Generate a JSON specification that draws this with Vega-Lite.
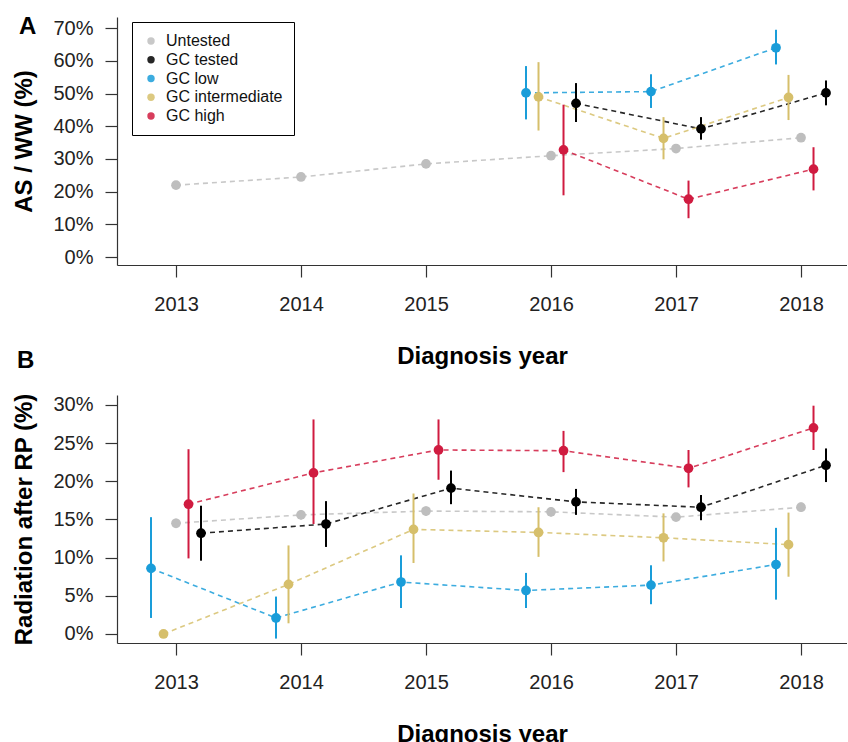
{
  "$schema": "https://vega.github.io/schema/vega-lite/v6.json",
  "padding": {"left": 12, "top": 15, "right": 0, "bottom": 0},
  "background": "white",
  "config": {
    "font": "Liberation Sans",
    "view": {"stroke": null},
    "axis": {
      "grid": false,
      "domainColor": "#333333",
      "domainWidth": 1.2,
      "tickColor": "#333333",
      "tickWidth": 1.2,
      "tickSize": 12,
      "labelFontSize": 20,
      "labelColor": "#222222",
      "labelOverlap": false,
      "titleFontSize": 24,
      "titleFontWeight": "bold",
      "titleColor": "#000000"
    },
    "concat": {"spacing": -20}
  },
  "datasets": {
    "A": [
      {"year": 2013, "group": "Untested", "value": 22.0, "lo": 21.6, "hi": 22.4},
      {"year": 2014, "group": "Untested", "value": 24.5, "lo": 24.1, "hi": 24.9},
      {"year": 2015, "group": "Untested", "value": 28.5, "lo": 28.1, "hi": 28.9},
      {"year": 2016, "group": "Untested", "value": 31.0, "lo": 30.5, "hi": 31.5},
      {"year": 2017, "group": "Untested", "value": 33.2, "lo": 32.7, "hi": 33.7},
      {"year": 2018, "group": "Untested", "value": 36.5, "lo": 36.0, "hi": 37.0},
      {"year": 2016, "group": "GC tested", "value": 47.0, "lo": 41.3, "hi": 53.2},
      {"year": 2017, "group": "GC tested", "value": 39.2, "lo": 35.9, "hi": 42.8},
      {"year": 2018, "group": "GC tested", "value": 50.2, "lo": 46.4, "hi": 54.0},
      {"year": 2016, "group": "GC low", "value": 50.2, "lo": 42.1, "hi": 58.4},
      {"year": 2017, "group": "GC low", "value": 50.6, "lo": 45.6, "hi": 55.9},
      {"year": 2018, "group": "GC low", "value": 64.0, "lo": 58.9, "hi": 69.5},
      {"year": 2016, "group": "GC intermediate", "value": 49.0, "lo": 38.7, "hi": 59.6},
      {"year": 2017, "group": "GC intermediate", "value": 36.3, "lo": 29.9, "hi": 42.8},
      {"year": 2018, "group": "GC intermediate", "value": 48.8, "lo": 41.9, "hi": 55.7},
      {"year": 2016, "group": "GC high", "value": 32.8, "lo": 18.9, "hi": 46.6},
      {"year": 2017, "group": "GC high", "value": 17.7, "lo": 11.9, "hi": 23.4},
      {"year": 2018, "group": "GC high", "value": 26.9, "lo": 20.4, "hi": 33.6}
    ],
    "B": [
      {"year": 2013, "group": "Untested", "value": 14.5, "lo": 13.9, "hi": 15.1},
      {"year": 2014, "group": "Untested", "value": 15.6, "lo": 15.0, "hi": 16.2},
      {"year": 2015, "group": "Untested", "value": 16.1, "lo": 15.5, "hi": 16.7},
      {"year": 2016, "group": "Untested", "value": 16.0, "lo": 15.4, "hi": 16.6},
      {"year": 2017, "group": "Untested", "value": 15.3, "lo": 14.8, "hi": 15.8},
      {"year": 2018, "group": "Untested", "value": 16.6, "lo": 16.0, "hi": 17.2},
      {"year": 2013, "group": "GC tested", "value": 13.2, "lo": 9.6, "hi": 16.8},
      {"year": 2014, "group": "GC tested", "value": 14.4, "lo": 11.4, "hi": 17.4},
      {"year": 2015, "group": "GC tested", "value": 19.1, "lo": 17.0, "hi": 21.4},
      {"year": 2016, "group": "GC tested", "value": 17.3, "lo": 15.6, "hi": 19.0},
      {"year": 2017, "group": "GC tested", "value": 16.6, "lo": 14.9, "hi": 18.2},
      {"year": 2018, "group": "GC tested", "value": 22.1, "lo": 19.9, "hi": 24.3},
      {"year": 2013, "group": "GC low", "value": 8.6, "lo": 2.1, "hi": 15.3},
      {"year": 2014, "group": "GC low", "value": 2.1, "lo": -0.6, "hi": 4.9},
      {"year": 2015, "group": "GC low", "value": 6.8, "lo": 3.4, "hi": 10.3},
      {"year": 2016, "group": "GC low", "value": 5.7, "lo": 3.4, "hi": 8.0},
      {"year": 2017, "group": "GC low", "value": 6.4, "lo": 3.9, "hi": 9.0},
      {"year": 2018, "group": "GC low", "value": 9.1, "lo": 4.5, "hi": 13.9},
      {"year": 2013, "group": "GC intermediate", "value": 0.0, "lo": 0.0, "hi": 0.0},
      {"year": 2014, "group": "GC intermediate", "value": 6.5, "lo": 1.4, "hi": 11.6},
      {"year": 2015, "group": "GC intermediate", "value": 13.7, "lo": 9.3, "hi": 18.4},
      {"year": 2016, "group": "GC intermediate", "value": 13.3, "lo": 10.1, "hi": 16.6},
      {"year": 2017, "group": "GC intermediate", "value": 12.6, "lo": 9.5, "hi": 15.8},
      {"year": 2018, "group": "GC intermediate", "value": 11.7, "lo": 7.5, "hi": 15.9},
      {"year": 2013, "group": "GC high", "value": 17.0, "lo": 9.9, "hi": 24.2},
      {"year": 2014, "group": "GC high", "value": 21.1, "lo": 14.4, "hi": 28.1},
      {"year": 2015, "group": "GC high", "value": 24.1, "lo": 20.2, "hi": 28.1},
      {"year": 2016, "group": "GC high", "value": 24.0, "lo": 21.2, "hi": 26.6},
      {"year": 2017, "group": "GC high", "value": 21.7, "lo": 19.2, "hi": 24.1},
      {"year": 2018, "group": "GC high", "value": 27.0, "lo": 24.1, "hi": 29.9}
    ]
  },
  "resolve": {"legend": {"color": "independent"}},
  "vconcat": [
    {
      "data": {"name": "A"},
      "width": 730,
      "height": 248,
      "title": {"text": "A", "anchor": "start", "frame": "bounds", "fontSize": 24, "fontWeight": "bold", "offset": -22, "dx": 6},
      "encoding": {
        "x": {"field": "year", "type": "ordinal",
              "scale": {"type": "point", "domain": [2013, 2014, 2015, 2016, 2017, 2018], "padding": 0.42, "align": 0.562},
              "axis": {"labelAngle": 0, "labelPadding": 17, "title": "Diagnosis year", "titlePadding": 30}},
        "xOffset": {"field": "group", "type": "nominal",
              "scale": {"type": "point", "domain": ["GC low", "GC intermediate", "Untested", "GC high", "GC tested"], "range": [-25, 25], "padding": 0}},
        "color": {"field": "group", "type": "nominal",
              "scale": {"domain": ["Untested", "GC tested", "GC low", "GC intermediate", "GC high"], "range": ["#BEBEBE", "#000000", "#1A9DD9", "#D6BF6B", "#D01B40"]},
              "legend": {"orient": "none", "legendX": 15, "legendY": 5, "title": null, "labelFontSize": 16, "labelColor": "#111111", "symbolType": "circle", "symbolSize": 55, "symbolStrokeWidth": 0, "strokeColor": "#000000", "padding": 11, "rowPadding": 2.75, "labelOffset": 7, "fillColor": "white"}}
      },
      "layer": [
        {"mark": {"type": "line", "strokeDash": [5, 4], "strokeWidth": 1.6, "opacity": 0.85},
         "encoding": {"y": {"field": "value", "type": "quantitative",
            "scale": {"domain": [-2.4, 73.4], "nice": false, "zero": false},
            "axis": {"values": [0, 10, 20, 30, 40, 50, 60, 70], "labelExpr": "datum.value + '%'", "labelPadding": 12, "title": "AS / WW (%)", "titlePadding": 16}}}},
        {"mark": {"type": "rule", "strokeWidth": 2},
         "encoding": {"y": {"field": "lo", "type": "quantitative",
            "axis": {"values": [0, 10, 20, 30, 40, 50, 60, 70], "labelExpr": "datum.value + '%'", "labelPadding": 12, "title": "AS / WW (%)", "titlePadding": 16}}, "y2": {"field": "hi"}}},
        {"mark": {"type": "circle", "size": 95, "opacity": 1},
         "encoding": {"y": {"field": "value", "type": "quantitative",
            "axis": {"values": [0, 10, 20, 30, 40, 50, 60, 70], "labelExpr": "datum.value + '%'", "labelPadding": 12, "title": "AS / WW (%)", "titlePadding": 16}}}}
      ]
    },
    {
      "data": {"name": "B"},
      "width": 730,
      "height": 248,
      "title": {"text": "B", "anchor": "start", "frame": "bounds", "fontSize": 24, "fontWeight": "bold", "offset": 20, "dx": 4},
      "encoding": {
        "x": {"field": "year", "type": "ordinal",
              "scale": {"type": "point", "domain": [2013, 2014, 2015, 2016, 2017, 2018], "padding": 0.42, "align": 0.562},
              "axis": {"labelAngle": 0, "labelPadding": 17, "title": "Diagnosis year", "titlePadding": 30}},
        "xOffset": {"field": "group", "type": "nominal",
              "scale": {"type": "point", "domain": ["GC low", "GC intermediate", "Untested", "GC high", "GC tested"], "range": [-25, 25], "padding": 0}},
        "color": {"field": "group", "type": "nominal",
              "scale": {"domain": ["Untested", "GC tested", "GC low", "GC intermediate", "GC high"], "range": ["#BEBEBE", "#000000", "#1A9DD9", "#D6BF6B", "#D01B40"]},
              "legend": null}
      },
      "layer": [
        {"mark": {"type": "line", "strokeDash": [5, 4], "strokeWidth": 1.6, "opacity": 0.85},
         "encoding": {"y": {"field": "value", "type": "quantitative",
            "scale": {"domain": [-1.18, 31.3], "nice": false, "zero": false},
            "axis": {"values": [0, 5, 10, 15, 20, 25, 30], "labelExpr": "datum.value + '%'", "labelPadding": 12, "title": "Radiation after RP (%)", "titlePadding": 16}}}},
        {"mark": {"type": "rule", "strokeWidth": 2},
         "encoding": {"y": {"field": "lo", "type": "quantitative",
            "axis": {"values": [0, 5, 10, 15, 20, 25, 30], "labelExpr": "datum.value + '%'", "labelPadding": 12, "title": "Radiation after RP (%)", "titlePadding": 16}}, "y2": {"field": "hi"}}},
        {"mark": {"type": "circle", "size": 95, "opacity": 1},
         "encoding": {"y": {"field": "value", "type": "quantitative",
            "axis": {"values": [0, 5, 10, 15, 20, 25, 30], "labelExpr": "datum.value + '%'", "labelPadding": 12, "title": "Radiation after RP (%)", "titlePadding": 16}}}}
      ]
    }
  ]
}
